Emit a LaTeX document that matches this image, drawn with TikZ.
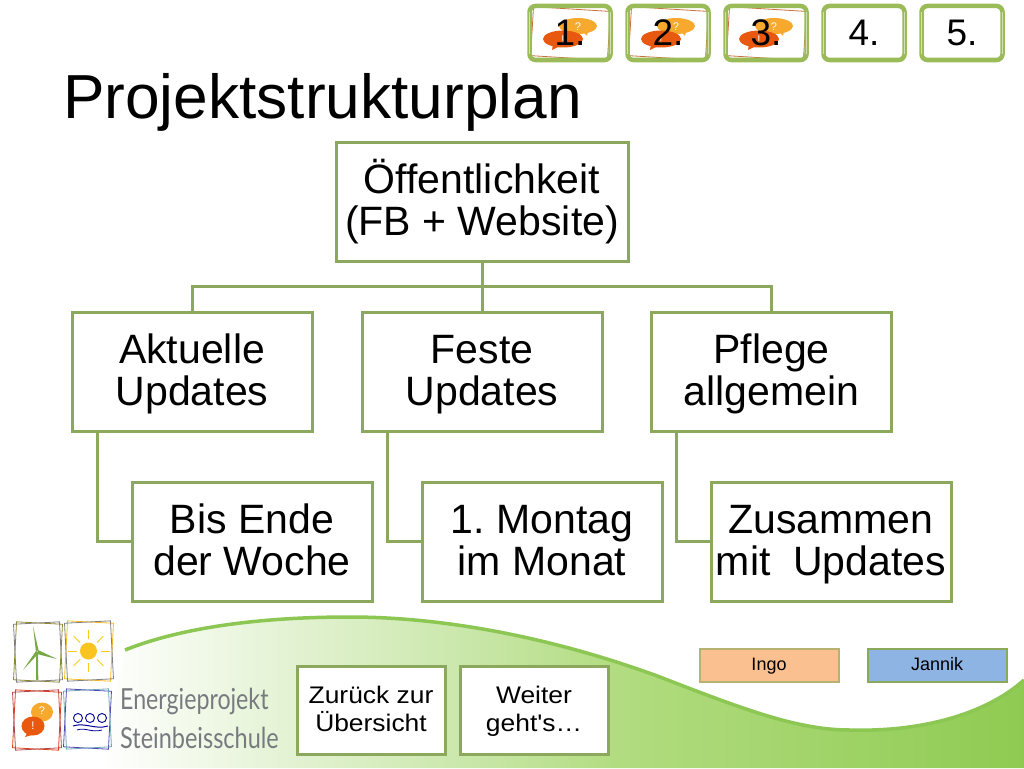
\documentclass[tikz,border=0pt]{standalone}
\usepackage{fontspec}
\setmainfont{Liberation Sans}
\newfontfamily\logofont{Lato}
\newfontfamily\linkfont[FakeStretch=1.1]{Liberation Sans}
\usetikzlibrary{positioning}

\definecolor{boxline}{HTML}{8CA85C}
\definecolor{navline}{HTML}{9BBB59}
\definecolor{swoosh}{HTML}{8CC653}
\definecolor{bubbleA}{HTML}{F7A92E}
\definecolor{bubbleB}{HTML}{E8590F}
\definecolor{tiltline}{HTML}{C8703A}
\definecolor{ingofill}{HTML}{FAC090}
\definecolor{jannikfill}{HTML}{8DB4E2}
\definecolor{logotext}{HTML}{777B80}
\definecolor{fadeA}{HTML}{E5F3D5}
\definecolor{fadeB}{HTML}{CCE8AE}
\definecolor{fadeC}{HTML}{B2DC80}
\definecolor{fadeD}{HTML}{8FCB52}
\pgfdeclarehorizontalshading{swooshfade}{100bp}{color(0bp)=(white); color(25bp)=(white); color(34.7bp)=(fadeA); color(44bp)=(fadeB); color(53bp)=(fadeC); color(75bp)=(fadeD); color(100bp)=(fadeD)}

\tikzset{
  planbox/.style={draw=boxline, line width=3pt, fill=white, align=center, inner sep=0pt, outer sep=0pt,
    minimum width=240pt, minimum height=119pt, font=\fontsize{41}{42}\selectfont,
    execute at begin node={\rule[-13pt]{0pt}{93pt}}},
  navbox/.style={draw=navline, line width=4.5pt, rounded corners=6pt, align=center, inner sep=0pt, outer sep=0pt,
    minimum width=81pt, minimum height=54pt, font=\fontsize{37}{40}\selectfont},
  linkbox/.style={draw=boxline, line width=3pt, fill=white, align=center, inner sep=0pt, outer sep=0pt,
    minimum width=148pt, minimum height=88pt, font=\linkfont\fontsize{24}{28}\selectfont,
    execute at begin node={\rule[-8pt]{0pt}{58pt}}},
  namebox/.style={line width=2pt, inner sep=0pt, outer sep=0pt, text height=13pt, text depth=3pt,
    minimum width=139pt, minimum height=33pt, font=\fontsize{18}{20}\selectfont},
  planlink/.style={draw=boxline, line width=3pt},
  tinyicon/.style={text=white, inner sep=0pt, font=\fontsize{11}{11}\selectfont},
}

\begin{document}
\begin{tikzpicture}[x=1pt, y=-1pt]
    \useasboundingbox (0,0) rectangle (1024,768);

    % Background swoosh
    \path[shading=swooshfade] (125,650) .. controls (200,620) and (300,617) .. (350,617)
        .. controls (450,617) and (560,640) .. (660,677)
        .. controls (750,712) and (800,730) .. (850,730)
        .. controls (920,732) and (985,715) .. (1024,680) -- (1024,768) -- (100,768) -- cycle;
    \draw[swoosh, line width=3.5pt] (125,650) .. controls (200,620) and (300,617) .. (350,617)
        .. controls (450,617) and (560,640) .. (660,677)
        .. controls (750,712) and (800,730) .. (850,730)
        .. controls (920,732) and (985,715) .. (1024,680);

    % Icons behind the first nav buttons
    \foreach \navx in {570,668,766} {
        \draw[tiltline, line width=0.8pt, rotate around={-3.5:(\navx,33)}] (\navx-38,9) rectangle (\navx+39,58);
        \fill[bubbleA] (\navx+8,26) ellipse [x radius=19pt, y radius=8pt];
        \fill[bubbleA] (\navx+12,31) -- (\navx+18,31) -- (\navx+17,36) -- cycle;
        \fill[bubbleB] (\navx-7,39) ellipse [x radius=20pt, y radius=8.5pt];
        \fill[bubbleB] (\navx-17,44) -- (\navx-10,46) -- (\navx-18,50) -- cycle;
        \node [tinyicon] at (\navx+8,27) {?};
        \node [tinyicon] at (\navx-7,40) {!};
    }

    % Nav buttons
    \node (nav1) [navbox] at (570,33) {1.};
    \node (nav2) [navbox] at (668,33) {2.};
    \node (nav3) [navbox] at (766,33) {3.};
    \node (nav4) [navbox] at (864,33) {4.};
    \node (nav5) [navbox] at (962,33) {5.};
    \foreach \navx in {570,668,766,864,962} {
        \draw[navline!45!white, line width=0.8pt] (\navx-40.5,12) -- (\navx-40.5,54);
        \draw[navline!45!white, line width=0.8pt] (\navx+40.5,12) -- (\navx+40.5,54);
    }

    % Title
    \node (title) [anchor=base west, inner sep=0pt, font=\fontsize{62.2}{66}\selectfont] at (63,118.5) {Projektstrukturplan};

    % Structure plan
    \node (pub) [planbox, minimum width=292pt] at (482,201.5) {Öffentlichkeit\\(FB + Website)};
    \node (akt) [planbox, below=51pt of pub, xshift=-290pt] {Aktuelle\\Updates};
    \node (fest) [planbox, below=51pt of pub] {Feste\\Updates};
    \node (pfl) [planbox, below=51pt of pub, xshift=289.5pt] {Pflege\\allgemein};
    \node (bis) [planbox, below=51pt of akt, xshift=60pt] {Bis Ende\\der Woche};
    \node (mon) [planbox, below=51pt of fest, xshift=60pt] {1.\ Montag\\im Monat};
    \node (zus) [planbox, below=51pt of pfl, xshift=59.5pt] {Zusammen\\mit\ \ Updates};

    % Connection lines
    \draw[planlink] (pub.south) -- ++(0,25) -| (akt.north);
    \draw[planlink] (pub.south) -- (fest.north);
    \draw[planlink] (pub.south) -- ++(0,25) -| (pfl.north);
    \draw[planlink] (akt.south west) ++(25,0) |- (bis.west);
    \draw[planlink] (fest.south west) ++(25,0) |- (mon.west);
    \draw[planlink] (pfl.south west) ++(25,0) |- (zus.west);

    % Bottom buttons
    \node (back) [linkbox] at (371,710) {Zurück zur\\Übersicht};
    \node (next) [linkbox] at (534,710) {Weiter\\geht's…};
    \node (ingo) [namebox, draw=boxline!60!ingofill, fill=ingofill] at (769,665) {Ingo};
    \node (jan) [namebox, draw=boxline, fill=jannikfill] at (937,665) {Jannik};

    % Logo frames
    \draw[olive!70!gray, line width=0.8pt, rotate around={-3:(38,652)}] (15,623) rectangle (61,681);
    \draw[gray, line width=0.8pt, rotate around={3:(38,652)}] (15,623) rectangle (61,681);
    \draw[bubbleA!80!yellow, line width=0.8pt, rotate around={-3:(89,651)}] (66,622) rectangle (112,680);
    \draw[gray, line width=0.8pt, rotate around={3:(89,651)}] (66,622) rectangle (112,680);
    \draw[red!50!brown, line width=0.8pt, rotate around={-3:(37,720)}] (14,691) rectangle (60,749);
    \draw[red!40!gray, line width=0.8pt, rotate around={3:(37,720)}] (14,691) rectangle (60,749);
    \draw[blue!40!gray, line width=0.8pt, rotate around={-3:(87,719)}] (65,690) rectangle (110,748);
    \draw[cyan!40!gray, line width=0.8pt, rotate around={3:(87,719)}] (65,690) rectangle (110,748);

    % Wind turbine
    \fill[swoosh!85!black] (36.3,652) -- (38,652) -- (38.3,680) -- (36,680) -- cycle;
    \fill[swoosh!85!black] (36,652) -- (38.5,650) -- (33,626) -- cycle;
    \fill[swoosh!85!black] (38,650) -- (37,654) -- (57,659) -- cycle;
    \fill[swoosh!85!black] (36,651) -- (38,654) -- (23,670) -- cycle;

    % Sun
    \fill[bubbleA!70!yellow] (88.5,651) circle (8.5pt);
    \foreach \sunray in {0,45,...,315} {
        \draw[bubbleA!60!yellow, line width=1pt] (88.5,651) ++(\sunray:12) -- ++(\sunray:9);
    }

    % Speech bubbles
    \fill[bubbleA] (42,712) ellipse [x radius=11pt, y radius=9.5pt];
    \fill[bubbleB] (33,726) ellipse [x radius=11.5pt, y radius=9.5pt];
    \fill[bubbleB] (27,733) -- (32,735) -- (25,737) -- cycle;
    \node (quest) [tinyicon] at (42,711) {?};
    \node (excl) [tinyicon] at (33,726) {!};

    % Waves
    \foreach \wavex in {78,90,102} {
        \draw[blue!60!black, line width=0.9pt] (\wavex,718) circle (4.5pt);
    }
    \draw[blue!60!black, line width=1pt] (73,726) .. controls (85,722) and (95,730) .. (108,726);
    \draw[blue!60!black, line width=0.8pt] (77,730) .. controls (85,727) and (92,733) .. (102,730);

    % Logo text
    \node (logo1) [anchor=base west, inner sep=0pt, text=logotext, font=\logofont\fontsize{29}{30}\selectfont, xscale=0.8, transform shape] at (120,709) {Energieprojekt};
    \node (logo2) [anchor=base west, inner sep=0pt, text=logotext, font=\logofont\fontsize{29}{30}\selectfont, xscale=0.81, transform shape] at (120,748) {Steinbeisschule};
\end{tikzpicture}
\end{document}
